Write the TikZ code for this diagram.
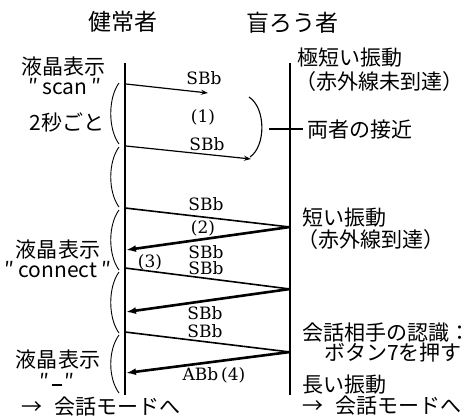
\documentclass[tikz,border=0pt]{standalone}
\usepackage{fontspec}
\newfontfamily\jp{Noto Sans CJK JP}
\newfontfamily\lab{DejaVu Serif}
\usetikzlibrary{arrows.meta}
\newcommand{\qq}[1]{″\hspace{0.2em}#1\hspace{0.2em}″}
\begin{document}
\begin{tikzpicture}[x=1pt,y=-1pt,
  jt/.style={font=\jp\fontsize{21}{23}\selectfont, inner sep=0pt},
  jl/.style={jt, anchor=west},
  hd/.style={font=\jp\fontsize{23}{25}\selectfont, inner sep=0pt},
  lb/.style={font=\lab\fontsize{17}{18}\selectfont, inner sep=0pt},
  life/.style={line width=2.4pt},
  thinarr/.style={line width=1.2pt, -{Stealth[length=7pt,width=5pt]}},
  fwd/.style={line width=1.6pt},
  ret/.style={line width=2.6pt, -{Latex[length=10pt,width=7pt]}},
  brc/.style={line width=0.9pt},
]
\useasboundingbox[fill=white] (0,0) rectangle (473,418);

% lifelines
\coordinate (Ltop) at (125,63);
\coordinate (Lbot) at (125,395);
\coordinate (Rtop) at (290,63);
\coordinate (Rbot) at (290,395);
\draw[life] (Ltop) -- (Lbot);
\draw[life] (Rtop) -- (Rbot);

% headings
\node[hd] (h1) at (123,22) {健常者};
\node[hd] (h2) at (292,23) {盲ろう者};

% left labels
\node[jt] (l1) at (63,67) {液晶表示};
\node[jt] (l2) at (65,87) {\qq{scan}};
\node[jt] (l3) at (67,122) {2秒ごと};
\node[jt] (l4) at (58,250) {液晶表示};
\node[jt] (l5) at (58,270) {\qq{connect}};
\node[jt] (l6) at (58,360) {液晶表示};
\node[jt] (l7) at (57,381) {″\hspace{0.1em}\rule[0.15em]{0.5em}{0.09em}\hspace{0.1em}″};
\node[jl] (l8) at (21,407) {→\hspace{0.6em}会話モードへ};

% right labels
\node[jl] (r1) at (297,58) {極短い振動};
\node[jl] (r2) at (295,82) {（赤外線未到達）};
\node[jl] (r3) at (307,130) {両者の接近};
\node[jl] (r4) at (302,218) {短い振動};
\node[jl] (r5) at (297,240) {（赤外線到達）};
\node[jl] (r6) at (302,333) {会話相手の認識：};
\node[jl] (r7) at (324,353) {ボタン7を押す};
\node[jl] (r8) at (302,385) {長い振動};
\node[jl] (r9) at (302,406) {→\hspace{0.6em}会話モードへ};

% braces
\foreach \a/\b in {83/144,147/207,210/270,272/333,335/393}{
  \draw[brc] (119,\a) .. controls (108,\a+15) and (108,\b-15) .. (119,\b);
}

% scan arrows
\coordinate (L1) at (126,84);
\coordinate (M1) at (208,93);
\coordinate (L2) at (126,146);
\coordinate (M2) at (251,159);
\draw[thinarr] (L1) -- (M1);
\draw[thinarr] (L2) -- (M2);
\node[lb] (s1) at (204,78) {SBb};
\node[lb] (n1) at (203,117) {(1)};
\node[lb] (s2) at (207,144) {SBb};

% approach arc and tick
\coordinate (A1) at (249,97);
\coordinate (A2) at (250,157);
\draw[line width=1.1pt] (A1) .. controls (266,108) and (266,146) .. (A2);
\coordinate (T1) at (269,129);
\coordinate (T2) at (303,129);
\draw[line width=1.1pt] (T1) -- (T2);

% connect exchanges
\coordinate (LA) at (125,208);
\coordinate (RA) at (290,227);
\coordinate (LA2) at (126,250);
\coordinate (LB) at (125,268);
\coordinate (RB) at (290,289);
\coordinate (LB2) at (126,312);
\coordinate (LC) at (125,332);
\coordinate (RC) at (290,352);
\coordinate (LC2) at (126,373);
\draw[fwd] (LA) -- (RA);
\draw[ret] (RA) -- (LA2);
\draw[fwd] (LB) -- (RB);
\draw[ret] (RB) -- (LB2);
\draw[fwd] (LC) -- (RC);
\draw[ret] (RC) -- (LC2);

\node[lb] (s3) at (206,204) {SBb};
\node[lb] (n2) at (203,228) {(2)};
\node[lb] (s4) at (206,252) {SBb};
\node[lb] (n3) at (150,262) {(3)};
\node[lb] (s5) at (206,268) {SBb};
\node[lb] (s6) at (205,313) {SBb};
\node[lb] (s7) at (205,331) {SBb};
\node[lb] (s8) at (214,375) {ABb\,(4)};
\end{tikzpicture}
\end{document}
